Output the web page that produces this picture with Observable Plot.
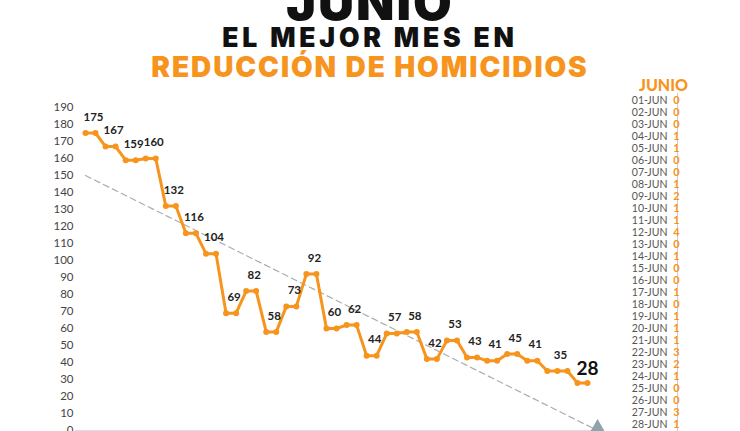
<!DOCTYPE html>
<html><head><meta charset="utf-8">
<script src="https://cdn.jsdelivr.net/npm/d3@7"></script>
<script src="https://cdn.jsdelivr.net/npm/@observablehq/plot@0.6"></script>
<style>
body{margin:0;width:740px;height:431px;overflow:hidden;background:#fff;position:relative;font-family:Lato, "Open Sans", sans-serif}
.t{position:absolute;left:0;width:740px;text-align:center;font-family:Inter, Lato, sans-serif;font-weight:900;white-space:nowrap;line-height:0.8}
#t1{top:-18px;font-size:50px;color:#111;letter-spacing:2px}
#t2{top:27.3px;font-size:26.5px;color:#111;letter-spacing:3.8px}
#t3{top:55.8px;font-size:28px;color:#f7941d;letter-spacing:1.9px}
#chart{position:absolute;left:0;top:80px}
#table{position:absolute;left:610px;top:66px}
</style></head><body>
<div class="t" id="t1">JUNIO</div>
<div class="t" id="t2">EL MEJOR MES EN</div>
<div class="t" id="t3">REDUCCIÓN DE HOMICIDIOS</div>
<div id="chart"></div>
<div id="table"></div>
<script>
const seriesValues = [175,175,167,167,159,159,160,160,132,132,116,116,104,104,69,69,82,82,58,58,73,73,92,92,60,60,62,62,44,44,57,57,58,58,42,42,53,53,43,43,41,41,45,45,41,41,35,35,35,28,28];
const yTicks = [0,10,20,30,40,50,60,70,80,90,100,110,120,130,140,150,160,170,180,190];
const trendIdx = [0, 51];
const trendValues = [150, 0];
const days = ["01-JUN","02-JUN","03-JUN","04-JUN","05-JUN","06-JUN","07-JUN","08-JUN","09-JUN","10-JUN","11-JUN","12-JUN","13-JUN","14-JUN","15-JUN","16-JUN","17-JUN","18-JUN","19-JUN","20-JUN","21-JUN","22-JUN","23-JUN","24-JUN","25-JUN","26-JUN","27-JUN","28-JUN"];
const dailyCounts = [0,0,0,1,1,0,0,1,2,1,1,4,0,1,0,0,1,0,1,1,1,3,2,1,0,0,3,1];
const tableTitle = "JUNIO";

const ORANGE = "#f7941d";
const pts = seriesValues.map((v, i) => ({i, v}));
const runs = [];
let start = 0;
for (let i = 1; i <= seriesValues.length; i++) {
  if (i === seriesValues.length || seriesValues[i] !== seriesValues[start]) {
    runs.push({i: (start + i - 1) / 2, v: seriesValues[start]});
    start = i;
  }
}
const lastRun = runs.pop();
const trend = trendIdx.map((i, k) => ({i, v: trendValues[k]}));

const chart = Plot.plot({
  width: 610, height: 370,
  marginLeft: 75, marginRight: 10, marginTop: 27, marginBottom: 20,
  style: {fontFamily: "Lato, sans-serif", background: "transparent"},
  x: {domain: [0, 50], range: [85, 587], axis: null},
  y: {domain: [0, 190], range: [350, 27]},
  marks: [
    Plot.axisY({ticks: yTicks, tickSize: 0, tickPadding: 2, label: null, fontSize: 11.5, fill: "#444"}),
    Plot.ruleY([0], {stroke: "#ddd"}),
    Plot.line(trend, {x: "i", y: "v", stroke: "#a8adb0", strokeWidth: 1.2, strokeDasharray: "6,4"}),
    Plot.dot(trend.slice(1), {x: "i", y: "v", symbol: "triangle", r: 8, fill: "#8fa3ad", dy: 1}),
    Plot.line(pts, {x: "i", y: "v", stroke: ORANGE, strokeWidth: 3}),
    Plot.dot(pts, {x: "i", y: "v", r: 3, fill: ORANGE}),
    Plot.text(runs, {x: "i", y: "v", text: "v", dx: 3, dy: -16, fontSize: 11.5, fontWeight: 700, fill: "#222"}),
    Plot.text([lastRun], {x: "i", y: "v", text: "v", dx: 5, dy: -14, fontSize: 19, fontWeight: 700, fill: "#111"})
  ]
});
document.getElementById("chart").append(chart);

const table = Plot.plot({
  width: 130, height: 384,
  marginTop: 27, marginBottom: 0, marginLeft: 0, marginRight: 0,
  style: {fontFamily: "Lato, sans-serif", background: "transparent"},
  x: {type: "point", domain: ["d", "n"], range: [52, 71], axis: null},
  y: {type: "point", domain: days, range: [34, 358], padding: 0, axis: null},
  marks: [
    Plot.ruleX(["d"], {x: d => d, dx: 10, stroke: "#ccc"}),
    Plot.text([tableTitle], {x: () => "d", text: d => d, frameAnchor: "top", dy: -14, dx: -4, fontSize: 16, fontWeight: 900, fill: ORANGE, letterSpacing: 1}),
    Plot.text(days, {x: () => "d", y: d => d, text: d => d, textAnchor: "end", fontSize: 10.5, fill: "#555", letterSpacing: 0.6}),
    Plot.text(dailyCounts, {x: () => "n", y: (d, i) => days[i], text: d => String(d), fontSize: 11, fontWeight: 700, fill: ORANGE})
  ]
});
document.getElementById("table").append(table);
</script>
</body></html>
